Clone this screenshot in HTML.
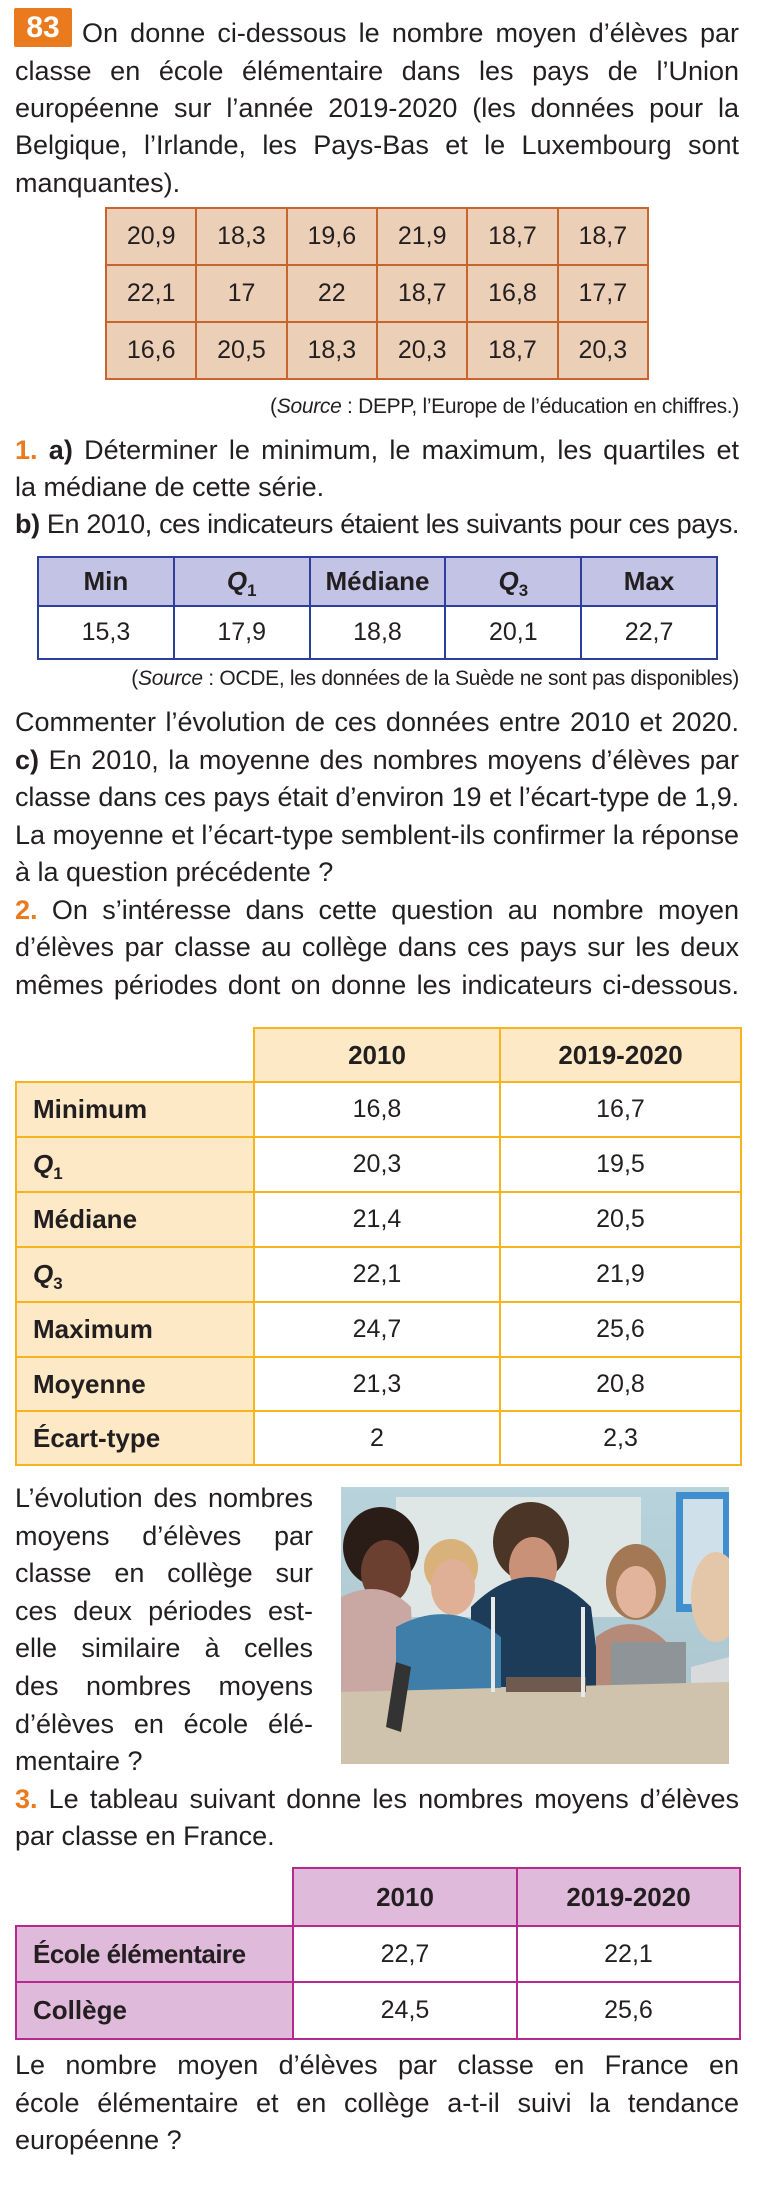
<!DOCTYPE html>
<html><head><meta charset="utf-8">
<style>
*{margin:0;padding:0;box-sizing:border-box}
body{width:760px;height:2192px;background:#fff;position:relative;overflow:hidden;font-family:"Liberation Sans",sans-serif;color:#231f20}
.l{position:absolute;left:15px;width:724px;white-space:nowrap;font-size:27px;line-height:27px;text-align:justify;text-align-last:justify}
.ll{text-align:left;text-align-last:left}
.src{position:absolute;right:21px;font-size:21px;line-height:21px;white-space:nowrap;letter-spacing:-0.3px}
.o{color:#ea7a1e;font-weight:bold}
b{font-weight:bold}
table{position:absolute;border-collapse:collapse;table-layout:fixed}
td{text-align:center;font-size:25px;padding:0;line-height:25px}
sub{font-size:0.65em;vertical-align:-0.35em;font-style:normal;line-height:0}
</style></head><body>

<div style="position:absolute;left:14px;top:8px;width:58px;height:39px;background:#ea7a1e;border-radius:2px;color:#fff;font-weight:bold;font-size:30px;line-height:39px;text-align:center">83</div>
<div class="l" style="left:82px;width:657px;top:20px">On donne ci-dessous le nombre moyen d’élèves par</div>
<div class="l" style="top:58px">classe en école élémentaire dans les pays de l’Union</div>
<div class="l" style="top:95px">européenne sur l’année 2019-2020 (les données pour la</div>
<div class="l" style="top:132px">Belgique, l’Irlande, les Pays-Bas et le Luxembourg sont</div>
<div class="l ll" style="top:170px">manquantes).</div>

<table style="left:105px;top:207px;width:544px;height:173px;background:#ebcfb7">
<tr><td style="border:2px solid #c8642e">20,9</td><td style="border:2px solid #c8642e">18,3</td><td style="border:2px solid #c8642e">19,6</td><td style="border:2px solid #c8642e">21,9</td><td style="border:2px solid #c8642e">18,7</td><td style="border:2px solid #c8642e">18,7</td></tr>
<tr><td style="border:2px solid #c8642e">22,1</td><td style="border:2px solid #c8642e">17</td><td style="border:2px solid #c8642e">22</td><td style="border:2px solid #c8642e">18,7</td><td style="border:2px solid #c8642e">16,8</td><td style="border:2px solid #c8642e">17,7</td></tr>
<tr><td style="border:2px solid #c8642e">16,6</td><td style="border:2px solid #c8642e">20,5</td><td style="border:2px solid #c8642e">18,3</td><td style="border:2px solid #c8642e">20,3</td><td style="border:2px solid #c8642e">18,7</td><td style="border:2px solid #c8642e">20,3</td></tr>
</table>
<div class="src" style="top:396px">(<i>Source</i> : DEPP, l’Europe de l’éducation en chiffres.)</div>

<div class="l" style="top:437px"><span class="o">1.</span> <b>a)</b> Déterminer le minimum, le maximum, les quartiles et</div>
<div class="l ll" style="top:474px">la médiane de cette série.</div>
<div class="l" style="top:511px"><b>b)</b> En 2010, ces indicateurs étaient les suivants pour ces pays.</div>

<table style="left:37px;top:556px;width:681px;height:102px">
<tr style="height:49px;background:#c3c3e6;font-weight:bold"><td style="border:2px solid #2e3e9c;font-size:26px">Min</td><td style="border:2px solid #2e3e9c;font-size:26px"><i>Q</i><sub>1</sub></td><td style="border:2px solid #2e3e9c;font-size:26px">Médiane</td><td style="border:2px solid #2e3e9c;font-size:26px"><i>Q</i><sub>3</sub></td><td style="border:2px solid #2e3e9c;font-size:26px">Max</td></tr>
<tr style="height:53px"><td style="border:2px solid #2e3e9c">15,3</td><td style="border:2px solid #2e3e9c">17,9</td><td style="border:2px solid #2e3e9c">18,8</td><td style="border:2px solid #2e3e9c">20,1</td><td style="border:2px solid #2e3e9c">22,7</td></tr>
</table>
<div class="src" style="top:668px">(<i>Source</i> : OCDE, les données de la Suède ne sont pas disponibles)</div>

<div class="l" style="top:709px">Commenter l’évolution de ces données entre 2010 et 2020.</div>
<div class="l" style="top:747px"><b>c)</b> En 2010, la moyenne des nombres moyens d’élèves par</div>
<div class="l" style="top:784px">classe dans ces pays était d’environ 19 et l’écart-type de 1,9.</div>
<div class="l" style="top:822px">La moyenne et l’écart-type semblent-ils confirmer la réponse</div>
<div class="l ll" style="top:859px">à la question précédente ?</div>
<div class="l" style="top:897px"><span class="o">2.</span> On s’intéresse dans cette question au nombre moyen</div>
<div class="l" style="top:934px">d’élèves par classe au collège dans ces pays sur les deux</div>
<div class="l" style="top:972px">mêmes périodes dont on donne les indicateurs ci-dessous.</div>

<table style="left:15px;top:1027px;width:725px;height:437px">
<colgroup><col style="width:238px"><col style="width:246px"><col style="width:241px"></colgroup>
<tr style="height:54px;font-weight:bold"><td style="border:none"></td><td style="border:2px solid #f8b41c;background:#fde9c6;font-size:26px">2010</td><td style="border:2px solid #f8b41c;background:#fde9c6;font-size:26px">2019-2020</td></tr>
<tr style="height:55px"><td style="border:2px solid #f8b41c;background:#fde9c6;text-align:left;padding-left:16px;font-weight:bold;font-size:26px">Minimum</td><td style="border:2px solid #f8b41c">16,8</td><td style="border:2px solid #f8b41c">16,7</td></tr>
<tr style="height:55px"><td style="border:2px solid #f8b41c;background:#fde9c6;text-align:left;padding-left:16px;font-weight:bold;font-size:26px"><i>Q</i><sub>1</sub></td><td style="border:2px solid #f8b41c">20,3</td><td style="border:2px solid #f8b41c">19,5</td></tr>
<tr style="height:55px"><td style="border:2px solid #f8b41c;background:#fde9c6;text-align:left;padding-left:16px;font-weight:bold;font-size:26px">Médiane</td><td style="border:2px solid #f8b41c">21,4</td><td style="border:2px solid #f8b41c">20,5</td></tr>
<tr style="height:55px"><td style="border:2px solid #f8b41c;background:#fde9c6;text-align:left;padding-left:16px;font-weight:bold;font-size:26px"><i>Q</i><sub>3</sub></td><td style="border:2px solid #f8b41c">22,1</td><td style="border:2px solid #f8b41c">21,9</td></tr>
<tr style="height:55px"><td style="border:2px solid #f8b41c;background:#fde9c6;text-align:left;padding-left:16px;font-weight:bold;font-size:26px">Maximum</td><td style="border:2px solid #f8b41c">24,7</td><td style="border:2px solid #f8b41c">25,6</td></tr>
<tr style="height:54px"><td style="border:2px solid #f8b41c;background:#fde9c6;text-align:left;padding-left:16px;font-weight:bold;font-size:26px">Moyenne</td><td style="border:2px solid #f8b41c">21,3</td><td style="border:2px solid #f8b41c">20,8</td></tr>
<tr style="height:54px"><td style="border:2px solid #f8b41c;background:#fde9c6;text-align:left;padding-left:16px;font-weight:bold;font-size:26px">Écart-type</td><td style="border:2px solid #f8b41c">2</td><td style="border:2px solid #f8b41c">2,3</td></tr>
</table>

<div class="l" style="width:298px;top:1485px">L’évolution des nombres</div>
<div class="l" style="width:298px;top:1523px">moyens d’élèves par</div>
<div class="l" style="width:298px;top:1560px">classe en collège sur</div>
<div class="l" style="width:298px;top:1598px">ces deux périodes est-</div>
<div class="l" style="width:298px;top:1635px">elle similaire à celles</div>
<div class="l" style="width:298px;top:1673px">des nombres moyens</div>
<div class="l" style="width:298px;top:1711px">d’élèves en école élé-</div>
<div class="l ll" style="width:298px;top:1748px">mentaire ?</div>

<svg style="position:absolute;left:341px;top:1487px" width="388" height="277" viewBox="0 0 388 277">
<defs><linearGradient id="bg" x1="0" y1="0" x2="0" y2="1"><stop offset="0" stop-color="#b9d3dc"/><stop offset="1" stop-color="#a9c3cc"/></linearGradient></defs>
<rect width="388" height="277" fill="url(#bg)"/>
<rect x="55" y="10" width="245" height="120" fill="#dfe6e6"/>
<rect x="335" y="5" width="53" height="120" fill="#3f8fcf"/>
<rect x="342" y="12" width="40" height="105" fill="#cfe0ea"/>
<ellipse cx="190" cy="55" rx="38" ry="40" fill="#4a3526"/>
<ellipse cx="192" cy="80" rx="24" ry="30" fill="#c99278"/>
<path d="M130 120 Q190 60 250 120 L260 200 L130 200Z" fill="#1d3c5a"/>
<ellipse cx="40" cy="60" rx="38" ry="40" fill="#2a1d18"/>
<ellipse cx="45" cy="85" rx="25" ry="32" fill="#6b4030"/>
<path d="M0 110 Q40 90 70 120 L75 230 L0 230Z" fill="#c9a8a4"/>
<ellipse cx="110" cy="80" rx="27" ry="28" fill="#d8b27a"/>
<ellipse cx="112" cy="100" rx="22" ry="28" fill="#e0b096"/>
<path d="M55 140 Q110 110 160 150 L160 210 L55 210Z" fill="#3f7ea8"/>
<ellipse cx="295" cy="95" rx="30" ry="38" fill="#a27855"/>
<ellipse cx="295" cy="105" rx="20" ry="26" fill="#e2b49c"/>
<path d="M255 150 Q295 120 330 160 L330 220 L255 220Z" fill="#b58a78"/>
<rect x="270" y="155" width="75" height="55" fill="#8f9499"/>
<ellipse cx="375" cy="110" rx="25" ry="45" fill="#e3c7a8"/>
<path d="M350 180 L388 170 L388 277 L350 277Z" fill="#d9dadb"/>
<path d="M0 205 L388 195 L388 277 L0 277Z" fill="#cfc3ad"/>
<rect x="165" y="190" width="80" height="15" fill="#6e5a4e"/>
<path d="M55 175 L70 180 L60 245 L45 240Z" fill="#333"/>
<rect x="150" y="110" width="4" height="95" fill="#e8eaea"/>
<rect x="240" y="120" width="4" height="90" fill="#e8eaea"/>
</svg>

<div class="l" style="top:1786px"><span class="o">3.</span> Le tableau suivant donne les nombres moyens d’élèves</div>
<div class="l ll" style="top:1823px">par classe en France.</div>

<table style="left:15px;top:1867px;width:724px;height:171px">
<colgroup><col style="width:277px"><col style="width:224px"><col style="width:223px"></colgroup>
<tr style="height:58px;font-weight:bold"><td style="border:none"></td><td style="border:2px solid #b42a8e;background:#dfbadb;font-size:26px">2010</td><td style="border:2px solid #b42a8e;background:#dfbadb;font-size:26px">2019-2020</td></tr>
<tr style="height:56px"><td style="border:2px solid #b42a8e;background:#dfbadb;text-align:left;padding-left:16px;font-weight:bold;font-size:26px;letter-spacing:-0.5px">École élémentaire</td><td style="border:2px solid #b42a8e">22,7</td><td style="border:2px solid #b42a8e">22,1</td></tr>
<tr style="height:57px"><td style="border:2px solid #b42a8e;background:#dfbadb;text-align:left;padding-left:16px;font-weight:bold;font-size:26px">Collège</td><td style="border:2px solid #b42a8e">24,5</td><td style="border:2px solid #b42a8e">25,6</td></tr>
</table>

<div class="l" style="top:2052px">Le nombre moyen d’élèves par classe en France en</div>
<div class="l" style="top:2090px">école élémentaire et en collège a-t-il suivi la tendance</div>
<div class="l ll" style="top:2127px">européenne ?</div>
<script>
document.querySelectorAll('.l').forEach(function(d){
  var r=document.createRange();r.selectNodeContents(d);
  d.style.textAlignLast='left';d.style.textAlign='left';
  var w=r.getBoundingClientRect().width, W=d.clientWidth;
  var txt=d.textContent.length;
  if(w>W){d.style.letterSpacing=(-(w-W+2)/txt)+'px';}
  if(!d.classList.contains('ll')){d.style.textAlign='justify';d.style.textAlignLast='justify';}
});
</script>
</body></html>
